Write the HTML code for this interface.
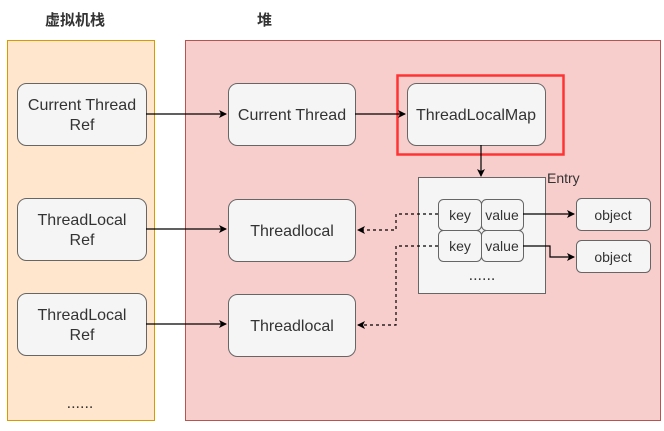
<!DOCTYPE html>
<html><head><meta charset="utf-8"><style>body{margin:0;background:#fff}</style></head><body>
<svg width="664" height="426" xmlns="http://www.w3.org/2000/svg" font-family="Liberation Sans, Noto Sans CJK SC, sans-serif">
<defs><marker id="a" markerWidth="8" markerHeight="8" refX="7" refY="4" orient="auto" markerUnits="userSpaceOnUse"><path d="M0,0 L8,4 L0,8 L2,4z" fill="#000"/></marker></defs>
<text x="45" y="25" font-size="15" font-weight="bold" fill="#333">虚拟机栈</text>
<text x="257" y="25" font-size="15" font-weight="bold" fill="#333">堆</text>
<rect x="7.5" y="40.5" width="147" height="380" fill="#ffe6cc" stroke="#d79b00"/>
<rect x="185.5" y="40.5" width="475" height="380" fill="#f8cecc" stroke="#b85450"/>
<g fill="#f5f5f5" stroke="#666" stroke-width="1">
<rect x="17.5" y="83.5" width="129" height="62" rx="9"/>
<rect x="17.5" y="198.5" width="129" height="62" rx="9"/>
<rect x="17.5" y="293.5" width="129" height="62" rx="9"/>
<rect x="228.5" y="83.5" width="127" height="62" rx="9"/>
<rect x="228.5" y="199.5" width="127" height="62" rx="9"/>
<rect x="228.5" y="294.5" width="127" height="62" rx="9"/>
<rect x="407.5" y="83.5" width="138" height="62" rx="9"/>
<rect x="418.5" y="177.5" width="127" height="116"/>
<rect x="438.5" y="199.5" width="43" height="31" rx="5"/>
<rect x="481.5" y="199.5" width="42" height="31" rx="5"/>
<rect x="438.5" y="230.5" width="43" height="31" rx="5"/>
<rect x="481.5" y="230.5" width="42" height="31" rx="5"/>
<rect x="576.5" y="198.5" width="74" height="32" rx="5"/>
<rect x="576.5" y="240.5" width="74" height="32" rx="5"/>
</g>
<rect x="397.5" y="75.5" width="166" height="79" fill="none" stroke="#ff3333" stroke-width="2.5"/>
<g font-size="16" fill="#333" text-anchor="middle">
<text x="82" y="110">Current Thread</text><text x="82" y="130">Ref</text>
<text x="82" y="225">ThreadLocal</text><text x="82" y="245">Ref</text>
<text x="82" y="320">ThreadLocal</text><text x="82" y="340">Ref</text>
<text x="292" y="120">Current Thread</text>
<text x="292" y="236">Threadlocal</text>
<text x="292" y="331">Threadlocal</text>
<text x="476" y="120">ThreadLocalMap</text>
<text x="80" y="408">......</text>
<text x="482" y="280">......</text>
</g>
<g font-size="14" fill="#333" text-anchor="middle">
<text x="460" y="220">key</text><text x="502" y="220">value</text>
<text x="460" y="251">key</text><text x="502" y="251">value</text>
<text x="613" y="220">object</text><text x="613" y="262">object</text>
</g>
<text x="547" y="183" font-size="14" fill="#333">Entry</text>
<g stroke="#000" fill="none" stroke-width="1.2">
<path d="M146,114 H226" marker-end="url(#a)"/>
<path d="M146,229 H226" marker-end="url(#a)"/>
<path d="M146,324 H226" marker-end="url(#a)"/>
<path d="M355,114 H405" marker-end="url(#a)"/>
<path d="M481,145 V176" marker-end="url(#a)"/>
<path d="M523,214 H574" marker-end="url(#a)"/>
<path d="M523,246 H550 V257 H574" marker-end="url(#a)"/>
<path d="M438,214 H396 V230 H358" stroke-dasharray="3,3" marker-end="url(#a)"/>
<path d="M438,246 H396 V325 H358" stroke-dasharray="3,3" marker-end="url(#a)"/>
</g>
</svg>
</body></html>
